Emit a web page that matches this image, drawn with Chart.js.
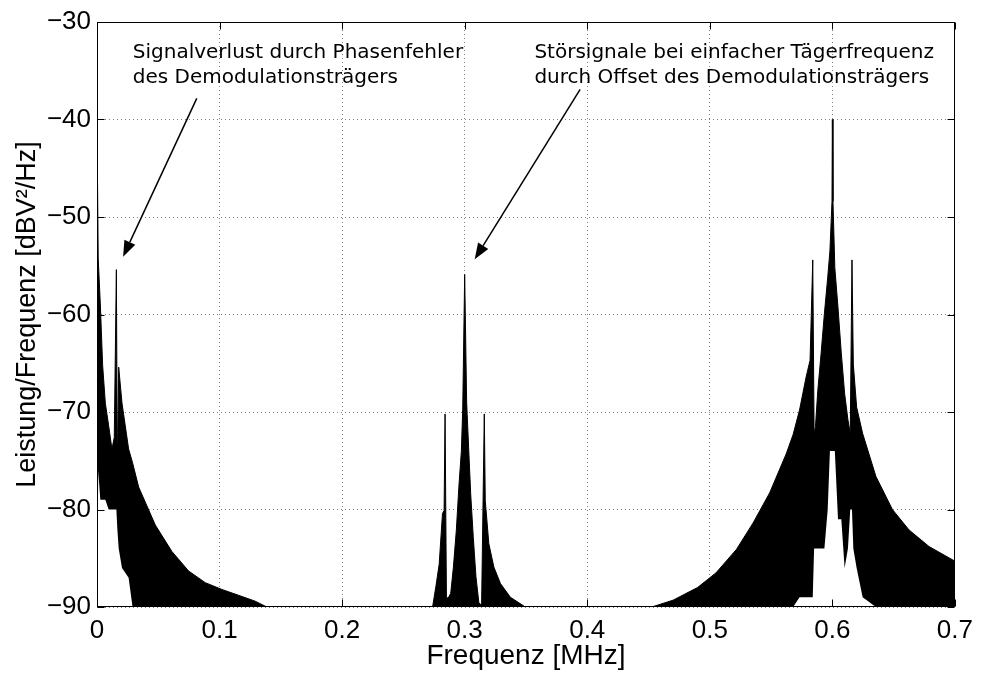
<!DOCTYPE html>
<html>
<head>
<meta charset="utf-8">
<script src="https://cdn.jsdelivr.net/npm/chart.js@4/dist/chart.umd.min.js"></script>
<style>
  body { margin: 0; background: #fff; }
  #wrap { width: 981px; height: 673px; position: relative; }
</style>
</head>
<body>
<div id="wrap"><canvas id="myChart"></canvas></div>
<script>
// frequency points [MHz], upper edge of the dense spectrum trace and lower edge (white gaps under it) [dB]
const freq = [0, 0.001, 0.0027, 0.0046, 0.0068, 0.0095, 0.0122, 0.0141, 0.0158, 0.0166, 0.0177, 0.0204, 0.0258, 0.029, 0.034, 0.0476, 0.0611, 0.0747, 0.0883, 0.1019, 0.1155, 0.129, 0.1386, 0.16, 0.25,
  0.2738, 0.2765, 0.2792, 0.2819, 0.2832, 0.284, 0.2851, 0.2865, 0.2886, 0.2908, 0.2932, 0.2954, 0.2973, 0.2984, 0.3, 0.3016, 0.3032, 0.3049, 0.307, 0.3092, 0.3116, 0.3138, 0.316, 0.3168, 0.3197, 0.3238, 0.3292, 0.3373, 0.3495, 0.37, 0.43,
  0.4526, 0.47, 0.49, 0.505, 0.5217, 0.5352, 0.5488, 0.5623, 0.568, 0.5732, 0.5786, 0.5818, 0.584, 0.5851, 0.5862, 0.5881, 0.5908, 0.5935, 0.5962, 0.598, 0.5997, 0.6, 0.6005, 0.602, 0.6046, 0.6073, 0.61, 0.6127, 0.6146, 0.616, 0.6171, 0.6198, 0.6247, 0.6355, 0.649, 0.6626, 0.6789, 0.7];
const upperDb = [-40.5, -54.3, -58.9, -65.2, -69.1, -71.4, -73.8, -72.6, -55.4, -76, -65.4, -69.1, -73.8, -75.2, -77.7, -81.6, -84.3, -86.3, -87.5, -88.2, -88.8, -89.4, -90, -95, -95,
  -90, -87.9, -85.6, -80.4, -80.1, -70.2, -89, -89.1, -88.6, -85.9, -82.1, -77.4, -74, -69.7, -55.9, -69, -73.6, -78.4, -82.8, -86.9, -89.6, -89.8, -70.2, -79.1, -83.5, -85.9, -87.6, -89, -90, -95, -95,
  -90, -89.3, -88, -86.5, -84.1, -81.4, -78.3, -74.3, -72.3, -69.8, -66.4, -64.7, -54.4, -72.2, -71.5, -67.8, -64, -59.9, -56.2, -53.5, -48.4, -40, -48.4, -55.2, -59.3, -64, -68.1, -70.8, -72.2, -54.4, -65.1, -69.5, -72.2, -76.6, -80, -82.1, -83.8, -85.3];
const lowerDb = [-90, -76, -79, -79, -79, -80, -80, -80, -80, -82, -84, -86, -87, -90, -90, -90, -90, -90, -90, -90, -90, -90, -90, -95, -95,
  -90, -90, -90, -90, -90, -90, -90, -90, -90, -90, -90, -90, -90, -90, -90, -90, -90, -90, -90, -90, -90, -90, -90, -90, -90, -90, -90, -90, -90, -95, -95,
  -90, -90, -90, -90, -90, -90, -90, -90, -90, -89, -89, -89, -89, -84, -84, -84, -84, -84, -80, -74, -74, -74, -74, -74, -81, -81, -86, -84, -80, -80, -84, -86, -89, -90, -90, -90, -90, -90];

const xTicks = [0, 0.1, 0.2, 0.3, 0.4, 0.5, 0.6, 0.7];
const xTickLabels = ['0', '0.1', '0.2', '0.3', '0.4', '0.5', '0.6', '0.7'];
const yTicks = [-90, -80, -70, -60, -50, -40, -30];
const yTickLabels = ['\u221290', '\u221280', '\u221270', '\u221260', '\u221250', '\u221240', '\u221230'];

// annotations: text lines with anchor (freq, dB) and arrows (from -> tip)
const note1 = ['Signalverlust durch Phasenfehler', 'des Demodulationsträgers'];
const note2 = ['Störsignale bei einfacher Tägerfrequenz', 'durch Offset des Demodulationsträgers'];
const note1Pos = [0.0292, -33.7];
const note2Pos = [0.3569, -33.7];
const arrow1 = [0.0814, -37.83, 0.0213, -54.07];
const arrow2 = [0.3942, -36.9, 0.3082, -54.34];

const fam = '"Liberation Sans", Arial, sans-serif';
const tickFont = { family: fam, size: 26 };

const boxPlugin = {
  id: 'box',
  afterDraw(chart) {
    const { ctx, chartArea: a, scales: { x, y } } = chart;
    ctx.save();
    ctx.strokeStyle = '#000';
    ctx.lineWidth = 1;
    const L = Math.round(a.left) + 0.5, R = Math.round(a.right) - 0.5;
    const T = Math.round(a.top) + 0.5, B = Math.round(a.bottom) - 0.5;
    ctx.strokeRect(L, T, R - L, B - T);
    ctx.beginPath();
    xTicks.forEach(v => {
      const px = Math.round(x.getPixelForValue(v)) + 0.5;
      ctx.moveTo(px, B); ctx.lineTo(px, B - 7);
      ctx.moveTo(px, T); ctx.lineTo(px, T + 7);
    });
    yTicks.forEach(v => {
      const py = Math.round(y.getPixelForValue(v)) + 0.5;
      ctx.moveTo(L, py); ctx.lineTo(L + 7, py);
      ctx.moveTo(R, py); ctx.lineTo(R - 7, py);
    });
    ctx.stroke();

    ctx.fillStyle = '#000';
    ctx.font = '20px "DejaVu Sans", sans-serif';
    ctx.textAlign = 'left';
    ctx.textBaseline = 'alphabetic';
    [[note1, note1Pos], [note2, note2Pos]].forEach(([lines, pos]) => {
      const px = x.getPixelForValue(pos[0]);
      const py = y.getPixelForValue(pos[1]);
      lines.forEach((t, i) => ctx.fillText(t, px, py + i * 25));
    });

    [arrow1, arrow2].forEach(ar => {
      const x0 = x.getPixelForValue(ar[0]), y0 = y.getPixelForValue(ar[1]);
      const x1 = x.getPixelForValue(ar[2]), y1 = y.getPixelForValue(ar[3]);
      const ang = Math.atan2(y1 - y0, x1 - x0);
      const hl = 16, hw = 6;
      const bx = x1 - hl * Math.cos(ang), by = y1 - hl * Math.sin(ang);
      ctx.lineWidth = 1.5;
      ctx.beginPath();
      ctx.moveTo(x0, y0);
      ctx.lineTo(bx, by);
      ctx.stroke();
      ctx.beginPath();
      ctx.moveTo(x1, y1);
      ctx.lineTo(bx + hw * Math.sin(ang), by - hw * Math.cos(ang));
      ctx.lineTo(bx - hw * Math.sin(ang), by + hw * Math.cos(ang));
      ctx.closePath();
      ctx.fill();
    });
    ctx.restore();
  }
};

const ctx = document.getElementById('myChart').getContext('2d');
const myChart = new Chart(ctx, {
  type: 'line',
  data: {
    datasets: [
      {
        // white gaps below the trace, drawn on top
        data: freq.map((f, i) => ({ x: f, y: lowerDb[i] })),
        borderColor: '#fff',
        backgroundColor: '#fff',
        borderWidth: 0,
        pointRadius: 0,
        tension: 0,
        fill: 'start',
        order: 0
      },
      {
        data: freq.map((f, i) => ({ x: f, y: upperDb[i] })),
        borderColor: '#000',
        backgroundColor: '#000',
        borderWidth: 1,
        pointRadius: 0,
        tension: 0,
        fill: 'start',
        order: 1
      }
    ]
  },
  options: {
    responsive: true,
    maintainAspectRatio: false,
    animation: false,
    layout: { padding: { top: 22, right: 21.5, left: 0, bottom: 0 } },
    plugins: { legend: { display: false }, tooltip: { enabled: false } },
    scales: {
      x: {
        type: 'linear',
        min: 0,
        max: 0.7,
        afterBuildTicks: s => { s.ticks = xTicks.map(v => ({ value: v })); },
        afterFit: s => { s.height = 66; },
        ticks: {
          color: '#000',
          font: tickFont,
          padding: 8,
          maxRotation: 0,
          autoSkip: false,
          callback: (v, i) => xTickLabels[i]
        },
        grid: { color: 'rgba(0,0,0,0.5)', lineWidth: 1, drawTicks: false },
        border: { display: false, dash: [1, 3] },
        title: { display: true, text: 'Frequenz [MHz]', color: '#000', font: { family: fam, size: 28 }, padding: { top: 0, bottom: 0 } }
      },
      y: {
        min: -90,
        max: -30,
        afterBuildTicks: s => { s.ticks = yTicks.map(v => ({ value: v })); },
        afterFit: s => { s.width = 97; },
        ticks: {
          color: '#000',
          font: tickFont,
          padding: 6,
          autoSkip: false,
          callback: (v, i) => yTickLabels[i]
        },
        grid: { color: 'rgba(0,0,0,0.5)', lineWidth: 1, drawTicks: false },
        border: { display: false, dash: [1, 3] },
        title: { display: true, text: 'Leistung/Frequenz [dBV²/Hz]', color: '#000', font: { family: fam, size: 27 }, padding: { top: 11, bottom: 0 } }
      }
    }
  },
  plugins: [boxPlugin]
});
</script>
</body>
</html>
